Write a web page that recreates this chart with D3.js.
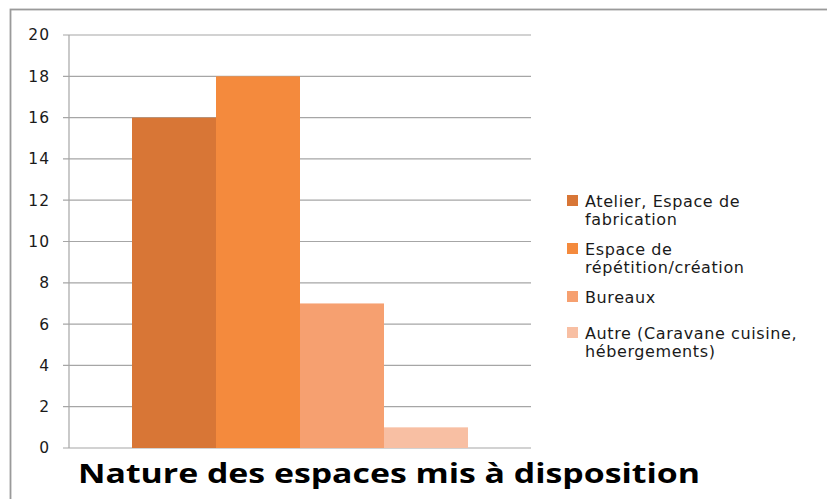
<!DOCTYPE html>
<html><head><meta charset="utf-8">
<script src="https://cdn.jsdelivr.net/npm/d3@7"></script>
<style>body{margin:0;background:#fff}svg{display:block}</style>
</head><body>
<script>
const categories = ["Atelier, Espace de fabrication","Espace de répétition/création","Bureaux","Autre (Caravane cuisine, hébergements)"];
const legendLines = [["Atelier, Espace de","fabrication"],["Espace de","répétition/création"],["Bureaux"],["Autre (Caravane cuisine,","hébergements)"]];
const values = [16, 18, 7, 1];
const colors = ["#D87636","#F48A3D","#F6A070","#F8BFA3"];
const yTicks = [0,2,4,6,8,10,12,14,16,18,20];
const title = "Nature des espaces mis à disposition";

(function(){
const W = 827, H = 499;
const svg = d3.select("body").append("svg").attr("width", W).attr("height", H);
svg.append("rect").attr("x",10.5).attr("y",9.5).attr("width",W).attr("height",H)
  .attr("fill","#fff").attr("stroke","#9a9a9a").attr("stroke-width",1.8);

const pL = 69, pR = 531, pT = 35, pB = 448;
const y = d3.scaleLinear().domain([0,20]).range([pB, pT]);
const x = d3.scaleBand().domain(categories).range([pL+63, pR-63]).padding(0);

svg.append("g").selectAll("line").data(yTicks).join("line")
  .attr("x1", pL-6).attr("x2", pR).attr("y1", d=>y(d)).attr("y2", d=>y(d))
  .attr("stroke","#a6a6a6").attr("stroke-width",1.2);
svg.append("line").attr("x1",pL).attr("x2",pL).attr("y1",pT).attr("y2",pB)
  .attr("stroke","#a6a6a6").attr("stroke-width",1.2);

const yAxis = d3.axisLeft(y).tickValues(yTicks).tickSize(0).tickPadding(19);
const ga = svg.append("g").attr("transform",`translate(${pL},0)`).call(yAxis);
ga.select(".domain").remove();
ga.selectAll("text").attr("font-family","'DejaVu Sans', sans-serif").attr("font-size",15.5)
  .attr("letter-spacing","1px").attr("fill","#1a1a1a");

svg.append("g").selectAll("rect").data(values).join("rect")
  .attr("x",(d,i)=>x(categories[i])).attr("width",x.bandwidth())
  .attr("y",d=>y(d)).attr("height",d=>pB-y(d))
  .attr("fill",(d,i)=>colors[i]);

const legTops = [201, 249, 297, 333];
const lg = svg.append("g");
legendLines.forEach((lines,i)=>{
  lg.append("rect").attr("x",567).attr("y",legTops[i]-6).attr("width",11).attr("height",11).attr("fill",colors[i]);
  lines.forEach((t,j)=>{
    lg.append("text").attr("x",585).attr("y",legTops[i]+5.5+j*18.5).text(t)
      .attr("font-family","'DejaVu Sans', sans-serif").attr("font-size",16)
      .attr("letter-spacing","0.6px").attr("fill","#1a1a1a");
  });
});

svg.append("text").attr("x",78).attr("y",483).text(title)
  .attr("font-family","'Open Sans', sans-serif").attr("font-weight","bold").attr("font-size",26).attr("fill","#000")
  .attr("textLength",622).attr("lengthAdjust","spacingAndGlyphs");
})();
</script>
</body></html>
